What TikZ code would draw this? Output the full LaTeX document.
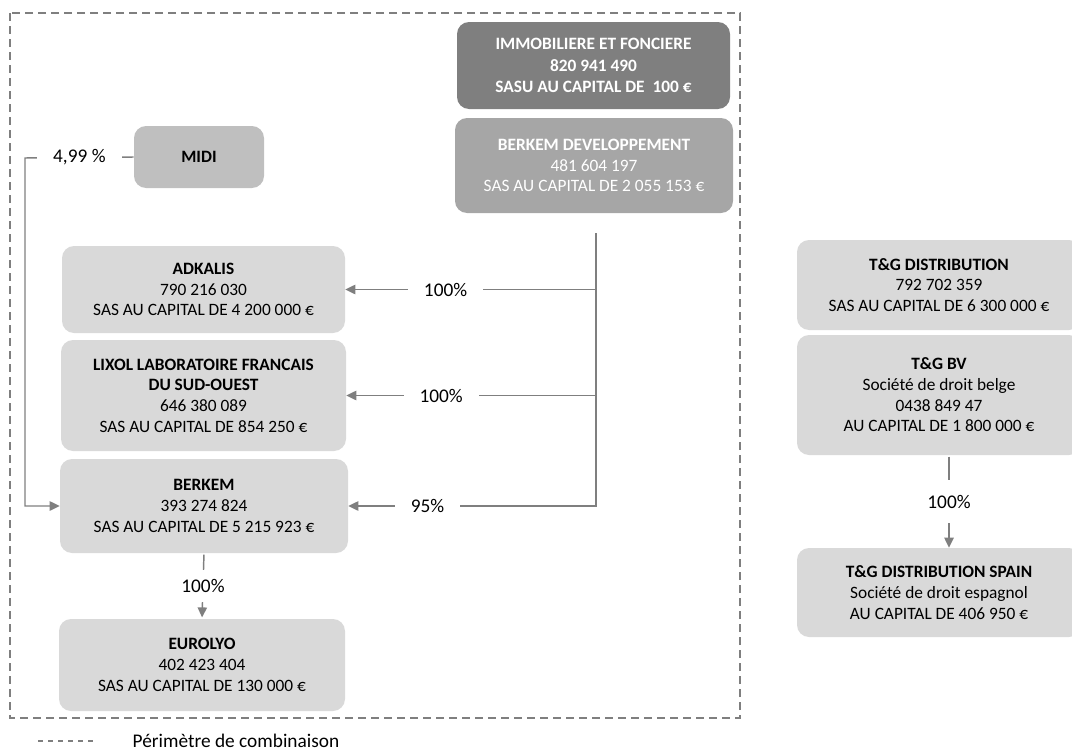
\documentclass[tikz,border=0pt]{standalone}
\usepackage{fontspec}
\setmainfont{Carlito}
\definecolor{orgDark}{HTML}{7F7F7F}
\definecolor{orgMid}{HTML}{A6A6A6}
\definecolor{orgSoft}{HTML}{BFBFBF}
\definecolor{orgLight}{HTML}{D9D9D9}
\definecolor{orgLine}{HTML}{7F7F7F}
\usetikzlibrary{arrows.meta, positioning, calc}

\begin{document}
\begin{tikzpicture}[
  x=0.75pt, y=-0.75pt,
  every node/.style={font=\fontsize{13}{15.5}\selectfont},
  box/.style={rounded corners=9pt, align=center, inner sep=0pt, fill=orgLight, text=black},
  boldbox/.style={box, font=\fontsize{13}{16}\selectfont\bfseries},
  link/.style={draw=orgLine, line width=1.1pt, -{Triangle[length=7.5pt, width=7pt]}},
  pct/.style={fill=white, text=black, font=\fontsize{14.5}{16}\selectfont, inner xsep=12pt, inner ysep=7pt},
  perim/.style={orgLine, line width=1.1pt, dash pattern=on 6pt off 3.75pt}]
  \useasboundingbox (0,0) rectangle (1072,753);

  % Perimetre de combinaison
  \draw[perim] (10,13) rectangle (740,718);

  % Holding side
  \node[boldbox, fill=orgDark, text=white, minimum width=204.75pt, minimum height=65.25pt]
    (immo) at (593.5,65.5) {IMMOBILIERE ET FONCIERE\\820 941 490\\SASU AU CAPITAL DE~~100 €};
  \node[box, fill=orgMid, text=white, minimum width=208.5pt, minimum height=71.25pt]
    (bdev) at (594,165.5) {\textbf{BERKEM DEVELOPPEMENT}\\481 604 197\\SAS AU CAPITAL DE 2 055 153 €};
  \node[boldbox, fill=orgSoft, minimum width=97.5pt, minimum height=46.5pt]
    (midi) at (199,157) {MIDI};

  % Subsidiaries
  \node[box, minimum width=212.25pt, minimum height=65.25pt] (adkalis) at (203.5,289.5)
    {\textbf{ADKALIS}\\790 216 030\\SAS AU CAPITAL DE 4 200 000 €};
  \node[box, minimum width=213.75pt, minimum height=83.25pt] (lixol) at (203.5,395.5)
    {\textbf{LIXOL LABORATOIRE FRANCAIS}\\\textbf{DU SUD-OUEST}\\646 380 089\\SAS AU CAPITAL DE 854 250 €};
  \node[box, minimum width=216pt, minimum height=70.5pt] (berkem) at (204,506)
    {\textbf{BERKEM}\\393 274 824\\SAS AU CAPITAL DE 5 215 923 €};
  \node[box, minimum width=214.5pt, minimum height=69pt] (eurolyo) at (202,665)
    {\textbf{EUROLYO}\\402 423 404\\SAS AU CAPITAL DE 130 000 €};

  % T&G group
  \node[box, minimum width=213pt, minimum height=67.5pt] (tgdist) at (939,285)
    {\textbf{T\&G DISTRIBUTION}\\792 702 359\\SAS AU CAPITAL DE 6 300 000 €};
  \node[box, minimum width=213pt, minimum height=90pt] (tgbv) at (939,395)
    {\textbf{T\&G BV}\\Société de droit belge\\0438 849 47\\AU CAPITAL DE 1 800 000 €};
  \node[box, minimum width=213pt, minimum height=66.75pt] (tgspain) at (939,592.5)
    {\textbf{T\&G DISTRIBUTION SPAIN}\\Société de droit espagnol\\AU CAPITAL DE 406 950 €};

  % Stakes held by BERKEM DEVELOPPEMENT
  \coordinate (trunk) at (596,233);
  \draw[link] (trunk) |- node[pct, pos=0.80] {100\%} (adkalis.east);
  \draw[link] (trunk) |- node[pct, pos=0.81] {100\%} (lixol.east);
  \draw[link] (trunk) |- node[pct, pos=0.84] {95\%} (berkem.east);

  % MIDI stake
  \coordinate (midiTurn) at (25,158);
  \draw[link] (midi.west) -- node[pct] {4,99 \%} (midiTurn) |- (berkem.west);

  % Down the chains
  \draw[link, shorten <=1pt, shorten >=1pt] (berkem.south) -- node[pct] {100\%} (eurolyo.north);
  \draw[link, shorten <=1pt] ([xshift=7.5pt]tgbv.south) -- node[pct, inner ysep=11pt] {100\%}
    ([xshift=7.5pt]tgspain.north);

  % Legend
  \draw[orgLine, line width=0.8pt, dash pattern=on 3.75pt off 3.75pt] (38,741) -- (95,741);
  \node[anchor=west, font=\fontsize{14.5}{16}\selectfont] (legend) at (128,741) {Périmètre de combinaison};
\end{tikzpicture}
\end{document}
